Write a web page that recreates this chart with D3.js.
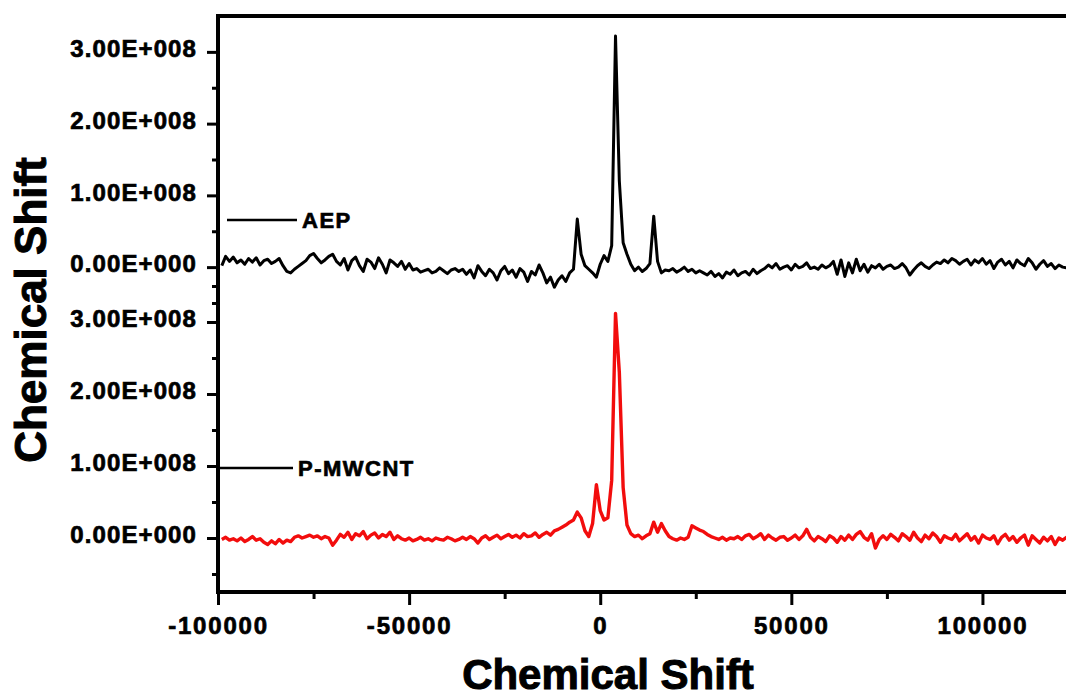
<!DOCTYPE html>
<html>
<head>
<meta charset="utf-8">
<script src="https://cdn.jsdelivr.net/npm/d3@7"></script>
<style>
  body { margin: 0; background: #fff; }
  text { font-family: "Liberation Sans", Arial, sans-serif; font-weight: bold; fill: #000; stroke: #000; stroke-width: 0.7px; }
</style>
</head>
<body>
<svg id="main" width="1066" height="697"></svg>
<script>
const width = 1066;
const height = 697;

// chemical shift grid, one sample every 1000 units
const shifts = d3.range(-99000, 123001, 1000);

// intensities in units of 1E+006
const aepValues = [
  2, 15, 8, 14, 6, 10, 4, 12, 7, 13,
  3, 9, 11, 5, 8, 12, 2, -6, -8, -3,
  1, 5, 9, 16, 19, 12, 6, 10, 15, 18,
  8, 3, 12, -4, 9, 14, 2, -6, 11, 7,
  -2, 13, 4, -8, 10, 6, 1, 8, -3, 5,
  -4, -2, -7, -5, -3, -8, -6, -1, -5, -9,
  -4, -2, -6, -3, -10, -4, -15, 2, -6, -12,
  -3, -8, -18, -5, 1, -9, -4, -14, -2, -7,
  -20, -6, -11, 3, -8, -22, -14, -28, -18, -12,
  -20, -8, -3, 67, 18, 2, -3, -8, -14, 4,
  16, 8, 30, 322, 120, 34, 18, 4, -5, 0,
  -6, -2, 5, 71, 8, -8, -4, -5, -2, -7,
  -4, 0, -6, -3, -8, -5, -8, -11, -6, -13,
  -9, -15, -7, -10, -4, -12, -8, -6, -11, -3,
  -9, -5, -2, 3, -1, 5, -3, 0, 2, -4,
  4, -1, 1, 6, -2, 0, -3, 3, -1, 2,
  8, -10, 10, -13, 6, -8, 11, -5, 4, -7,
  2, -1, 4, -3, 1, 3, -2, 0, 5, -1,
  -11, -4, 2, 6, 1, -2, 3, 7, 5, 10,
  6, 12, 9, 4, 8, 11, 3, 10, 6, 12,
  4, 9, -2, 7, 11, 3, 8, -1, 10, 5,
  2, 12, 6, -3, 4, 9, 1, 5, -2, 3,
  0, -1, 2
];

const mwcntValues = [
  -2, 1, -3, -1, -4, 0, -5, -2, 2, -3,
  -1, -6, -9, -4, -8, -2, -7, -3, -5, 1,
  3, 0, 2, 4, 1, 3, -1, 2, 0, -10,
  -3, 5, 1, 8, -2, 6, 3, 9, -1, 4,
  7, 0, 5, 2, 8, -2, 3, -1, -3, 0,
  -4, -2, 1, -3, -1, -4, 0, -2, -3, 1,
  -1, -4, -2, 1, -2, 2, -1, -7, 0, 3,
  -2, 1, 4, -1, 2, 5, 1, 4, 0, 6,
  2, 3, 7, 1, 5, 8, 4, 10, 12, 15,
  18, 22, 25, 36, 28, 10, 2, 20, 74, 38,
  25, 28, 80, 312, 230, 70, 18, 6, 2, 4,
  -1, 3, 6, 22, 8, 20, 10, 2, -1, -3,
  0, -2, 1, 17, 14, 11, 9, 5, 2, 0,
  -2, 1, -3, 0, -1, 2, -2, 3, 5, -1,
  2, 6, -2, 4, 0, -3, 1, 2, -3, 0,
  4, -2, 3, 12, 1, -4, 2, -1, -5, 3,
  0, -6, 2, -3, 4, -2, 5, 9, 1, -3,
  6, -14, -2, 3, -2, 5, 1, -4, 6, 2,
  -3, 8, 0, -5, 4, -1, 7, 2, -6, 3,
  0, -2, 5, -4, 1, 6, -3, 2, -7, 4,
  0, -2, 3, -8, 1, 5, -3, 2, -6, 0,
  4, -10, 3, -2, -7, 1, -4, 2, -9, 0,
  -3, 1, -2
];

const seriesNames = ['AEP', 'P-MWCNT'];
const seriesColors = ['#000000', '#f20d0d'];

const xTicks = [-100000, -50000, 0, 50000, 100000];
const xMinorTicks = [-75000, -25000, 25000, 75000];
const yTicks = [0, 1e8, 2e8, 3e8];
const yMinorTop = [-0.5e8, 0.5e8, 1.5e8, 2.5e8];
const yMinorBottom = [-0.5e8, 0.5e8, 1.5e8, 2.5e8, 3.5e8];

const svg = d3.select('#main');
svg.attr('viewBox', `0 0 ${width} ${height}`);

const plotLeft = 218, plotTop = 16, plotBottom = 592, plotRight = 1078;

const x = d3.scaleLinear().domain([-100000, 125000]).range([plotLeft, plotRight]);
const yTop = d3.scaleLinear().domain([-0.5e8, 3.5e8]).range([303, plotTop]);
const yBottom = d3.scaleLinear().domain([-0.75e8, 3.5e8]).range([plotBottom, 286]);

const sciFormat = d => {
  const [m, e] = d.toExponential(2).split('e');
  return `${m}E${e[0]}${e.slice(1).padStart(3, '0')}`;
};

// traces
const layers = [
  {values: aepValues, y: yTop, width: 3},
  {values: mwcntValues, y: yBottom, width: 3.4}
];
layers.forEach((layer, k) => {
  const line = d3.line()
    .x((d, i) => x(shifts[i]))
    .y(d => layer.y(d * 1e6));
  svg.append('path')
    .datum(layer.values)
    .attr('d', line)
    .attr('fill', 'none')
    .attr('stroke', seriesColors[k])
    .attr('stroke-width', layer.width)
    .attr('stroke-linejoin', 'round');
});

// frame
svg.append('path')
  .attr('d', `M ${plotRight} ${plotTop} H ${plotLeft} V ${plotBottom} H ${plotRight}`)
  .attr('fill', 'none')
  .attr('stroke', '#000')
  .attr('stroke-width', 4);

// y axes, one per layer
[[yTop, yMinorTop], [yBottom, yMinorBottom]].forEach(([scale, minor]) => {
  const major = svg.append('g')
    .attr('transform', `translate(${plotLeft},0)`)
    .call(d3.axisLeft(scale).tickValues(yTicks).tickSize(11).tickPadding(10).tickFormat(sciFormat));
  major.select('.domain').remove();
  major.selectAll('line').attr('stroke-width', 3);
  major.selectAll('text')
    .attr('font-size', 24)
    .attr('letter-spacing', 1.1)
    .attr('dy', '0.2em');

  const small = svg.append('g')
    .attr('transform', `translate(${plotLeft},0)`)
    .call(d3.axisLeft(scale).tickValues(minor).tickSize(6).tickFormat(''));
  small.select('.domain').remove();
  small.selectAll('line').attr('stroke-width', 3);
});

// x axis
const xAxis = svg.append('g')
  .attr('transform', `translate(0,${plotBottom})`)
  .call(d3.axisBottom(x).tickValues(xTicks).tickSize(13).tickPadding(12).tickFormat(d => String(d)));
xAxis.select('.domain').remove();
xAxis.selectAll('line').attr('stroke-width', 3);
xAxis.selectAll('text').attr('font-size', 24).attr('letter-spacing', 1.8);

const xMinor = svg.append('g')
  .attr('transform', `translate(0,${plotBottom})`)
  .call(d3.axisBottom(x).tickValues(xMinorTicks).tickSize(7).tickFormat(''));
xMinor.select('.domain').remove();
xMinor.selectAll('line').attr('stroke-width', 3);

// legends
const legends = [
  {x1: 227, x2: 297, y: 220},
  {x1: 220, x2: 293, y: 468}
];
legends.forEach((lg, k) => {
  svg.append('line')
    .attr('x1', lg.x1).attr('x2', lg.x2)
    .attr('y1', lg.y).attr('y2', lg.y)
    .attr('stroke', '#000')
    .attr('stroke-width', 2.5);
  svg.append('text')
    .attr('x', lg.x2 + 5)
    .attr('y', lg.y + 8)
    .attr('font-size', 22)
    .attr('letter-spacing', 1.5)
    .text(seriesNames[k]);
});

// axis titles
svg.append('text')
  .attr('transform', 'translate(46,310) rotate(-90)')
  .attr('text-anchor', 'middle')
  .attr('font-size', 44)
  .style('stroke-width', '1px')
  .text('Chemical Shift');

svg.append('text')
  .attr('x', 608)
  .attr('y', 689)
  .attr('text-anchor', 'middle')
  .attr('font-size', 42)
  .style('stroke-width', '1px')
  .text('Chemical Shift');
</script>
</body>
</html>
